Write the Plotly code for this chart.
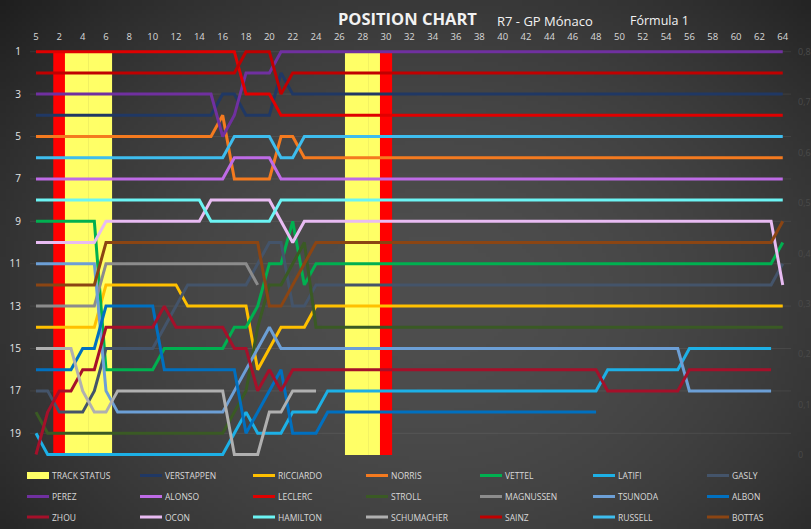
import base64
import struct
import zlib

import numpy as np
import plotly.graph_objects as go

# ---------------------------------------------------------------- data
LAPS = list(range(65))
TICK_LAPS = [0, 2, 4, 6, 8, 10, 12, 14, 16, 18, 20, 22, 24, 26, 28, 30, 32,
             34, 36, 38, 40, 42, 44, 46, 48, 50, 52, 54, 56, 58, 60, 62, 64]
TICK_TEXT = ["5", "2", "4", "6", "8", "10", "12", "14", "16", "18", "20", "22",
             "24", "26", "28", "30", "32", "34", "36", "38", "40", "42", "44",
             "46", "48", "50", "52", "54", "56", "58", "60", "62", "64"]
POS_TICKS = [1, 3, 5, 7, 9, 11, 13, 15, 17, 19]
STATUS_TICKS = [0, 0.1, 0.2, 0.3, 0.4, 0.5, 0.6, 0.7, 0.8]
STATUS_TICK_TEXT = ["0", "0,1", "0,2", "0,3", "0,4", "0,5", "0,6", "0,7", "0,8"]

# track status (secondary axis): red flag / safety car laps
TS_LAPS = [2, 3, 4, 5, 6, 27, 28, 29, 30]
TS_KIND = ["RED", "SC", "SC", "SC", "SC", "SC", "SC", "SC", "RED"]
TS_VALUE = [0.8, 0.8, 0.8, 0.8, 0.8, 0.8, 0.8, 0.8, 0.8]

N = None
VERSTAPPEN = [4, 4, 4, 4, 4, 4, 4, 4, 4, 4,
              4, 4, 4, 4, 4, 4, 3, 3, 4, 4,
              4, 2, 3, 3, 3, 3, 3, 3, 3, 3,
              3, 3, 3, 3, 3, 3, 3, 3, 3, 3,
              3, 3, 3, 3, 3, 3, 3, 3, 3, 3,
              3, 3, 3, 3, 3, 3, 3, 3, 3, 3,
              3, 3, 3, 3, 3]
RICCIARDO = [14, 14, 14, 14, 14, 14, 12, 12, 12, 12,
             12, 12, 12, 13, 13, 13, 13, 13, 13, 16,
             15, 14, 14, 14, 13, 13, 13, 13, 13, 13,
             13, 13, 13, 13, 13, 13, 13, 13, 13, 13,
             13, 13, 13, 13, 13, 13, 13, 13, 13, 13,
             13, 13, 13, 13, 13, 13, 13, 13, 13, 13,
             13, 13, 13, 13, 13]
NORRIS = [5, 5, 5, 5, 5, 5, 5, 5, 5, 5,
          5, 5, 5, 5, 5, 5, 4, 7, 7, 7,
          7, 5, 5, 6, 6, 6, 6, 6, 6, 6,
          6, 6, 6, 6, 6, 6, 6, 6, 6, 6,
          6, 6, 6, 6, 6, 6, 6, 6, 6, 6,
          6, 6, 6, 6, 6, 6, 6, 6, 6, 6,
          6, 6, 6, 6, 6]
VETTEL = [9, 9, 9, 9, 9, 9, 16, 16, 16, 16,
          16, 15, 15, 15, 15, 15, 15, 14, 14, 13,
          11, 11, 9, 12, 11, 11, 11, 11, 11, 11,
          11, 11, 11, 11, 11, 11, 11, 11, 11, 11,
          11, 11, 11, 11, 11, 11, 11, 11, 11, 11,
          11, 11, 11, 11, 11, 11, 11, 11, 11, 11,
          11, 11, 11, 11, 10]
LATIFI = [19, 20, 20, 20, 20, 20, 20, 20, 20, 20,
          20, 20, 20, 20, 20, 20, 20, 19, 18, 19,
          19, 19, 18, 18, 18, 17, 17, 17, 17, 17,
          17, 17, 17, 17, 17, 17, 17, 17, 17, 17,
          17, 17, 17, 17, 17, 17, 17, 17, 17, 16,
          16, 16, 16, 16, 16, 16, 15, 15, 15, 15,
          15, 15, 15, 15, N]
GASLY = [17, 17, 18, 18, 18, 17, 15, 15, 15, 15,
         15, 14, 13, 12, 12, 12, 12, 12, 12, 11,
         10, 10, 13, 13, 12, 12, 12, 12, 12, 12,
         12, 12, 12, 12, 12, 12, 12, 12, 12, 12,
         12, 12, 12, 12, 12, 12, 12, 12, 12, 12,
         12, 12, 12, 12, 12, 12, 12, 12, 12, 12,
         12, 12, 12, 12, 11]
PEREZ = [3, 3, 3, 3, 3, 3, 3, 3, 3, 3,
         3, 3, 3, 3, 3, 3, 5, 4, 2, 2,
         2, 1, 1, 1, 1, 1, 1, 1, 1, 1,
         1, 1, 1, 1, 1, 1, 1, 1, 1, 1,
         1, 1, 1, 1, 1, 1, 1, 1, 1, 1,
         1, 1, 1, 1, 1, 1, 1, 1, 1, 1,
         1, 1, 1, 1, 1]
ALONSO = [7, 7, 7, 7, 7, 7, 7, 7, 7, 7,
          7, 7, 7, 7, 7, 7, 7, 6, 6, 6,
          6, 7, 7, 7, 7, 7, 7, 7, 7, 7,
          7, 7, 7, 7, 7, 7, 7, 7, 7, 7,
          7, 7, 7, 7, 7, 7, 7, 7, 7, 7,
          7, 7, 7, 7, 7, 7, 7, 7, 7, 7,
          7, 7, 7, 7, 7]
LECLERC = [1, 1, 1, 1, 1, 1, 1, 1, 1, 1,
           1, 1, 1, 1, 1, 1, 1, 1, 3, 3,
           3, 4, 4, 4, 4, 4, 4, 4, 4, 4,
           4, 4, 4, 4, 4, 4, 4, 4, 4, 4,
           4, 4, 4, 4, 4, 4, 4, 4, 4, 4,
           4, 4, 4, 4, 4, 4, 4, 4, 4, 4,
           4, 4, 4, 4, 4]
STROLL = [18, 19, 19, 19, 19, 19, 19, 19, 19, 19,
          19, 19, 19, 19, 19, 19, 19, 18, 17, 14,
          12, 12, 11, 10, 14, 14, 14, 14, 14, 14,
          14, 14, 14, 14, 14, 14, 14, 14, 14, 14,
          14, 14, 14, 14, 14, 14, 14, 14, 14, 14,
          14, 14, 14, 14, 14, 14, 14, 14, 14, 14,
          14, 14, 14, 14, 14]
MAGNUSSEN = [13, 13, 13, 13, 13, 13, 11, 11, 11, 11,
             11, 11, 11, 11, 11, 11, 11, 11, 11, 12,
             N, N, N, N, N, N, N, N, N, N,
             N, N, N, N, N, N, N, N, N, N,
             N, N, N, N, N, N, N, N, N, N,
             N, N, N, N, N, N, N, N, N, N,
             N, N, N, N, N]
TSUNODA = [11, 11, 11, 11, 11, 11, 17, 18, 18, 18,
           18, 18, 18, 18, 18, 18, 18, 17, 16, 15,
           14, 15, 15, 15, 15, 15, 15, 15, 15, 15,
           15, 15, 15, 15, 15, 15, 15, 15, 15, 15,
           15, 15, 15, 15, 15, 15, 15, 15, 15, 15,
           15, 15, 15, 15, 15, 15, 17, 17, 17, 17,
           17, 17, 17, 17, N]
ALBON = [16, 16, 16, 16, 15, 15, 13, 13, 13, 13,
         13, 16, 16, 16, 16, 16, 16, 16, 19, 18,
         17, 16, 19, 19, 19, 18, 18, 18, 18, 18,
         18, 18, 18, 18, 18, 18, 18, 18, 18, 18,
         18, 18, 18, 18, 18, 18, 18, 18, 18, N,
         N, N, N, N, N, N, N, N, N, N,
         N, N, N, N, N]
ZHOU = [20, 18, 17, 17, 16, 16, 14, 14, 14, 14,
        14, 13, 14, 14, 14, 14, 14, 15, 15, 17,
        16, 17, 16, 16, 16, 16, 16, 16, 16, 16,
        16, 16, 16, 16, 16, 16, 16, 16, 16, 16,
        16, 16, 16, 16, 16, 16, 16, 16, 16, 17,
        17, 17, 17, 17, 17, 17, 16, 16, 16, 16,
        16, 16, 16, 16, N]
OCON = [10, 10, 10, 10, 10, 10, 9, 9, 9, 9,
        9, 9, 9, 9, 9, 8, 8, 8, 8, 8,
        8, 9, 10, 9, 9, 9, 9, 9, 9, 9,
        9, 9, 9, 9, 9, 9, 9, 9, 9, 9,
        9, 9, 9, 9, 9, 9, 9, 9, 9, 9,
        9, 9, 9, 9, 9, 9, 9, 9, 9, 9,
        9, 9, 9, 9, 12]
HAMILTON = [8, 8, 8, 8, 8, 8, 8, 8, 8, 8,
            8, 8, 8, 8, 8, 9, 9, 9, 9, 9,
            9, 8, 8, 8, 8, 8, 8, 8, 8, 8,
            8, 8, 8, 8, 8, 8, 8, 8, 8, 8,
            8, 8, 8, 8, 8, 8, 8, 8, 8, 8,
            8, 8, 8, 8, 8, 8, 8, 8, 8, 8,
            8, 8, 8, 8, 8]
SCHUMACHER = [15, 15, 15, 15, 17, 18, 18, 17, 17, 17,
              17, 17, 17, 17, 17, 17, 17, 20, 20, 20,
              18, 18, 17, 17, 17, N, N, N, N, N,
              N, N, N, N, N, N, N, N, N, N,
              N, N, N, N, N, N, N, N, N, N,
              N, N, N, N, N, N, N, N, N, N,
              N, N, N, N, N]
SAINZ = [2, 2, 2, 2, 2, 2, 2, 2, 2, 2,
         2, 2, 2, 2, 2, 2, 2, 2, 1, 1,
         1, 3, 2, 2, 2, 2, 2, 2, 2, 2,
         2, 2, 2, 2, 2, 2, 2, 2, 2, 2,
         2, 2, 2, 2, 2, 2, 2, 2, 2, 2,
         2, 2, 2, 2, 2, 2, 2, 2, 2, 2,
         2, 2, 2, 2, 2]
RUSSELL = [6, 6, 6, 6, 6, 6, 6, 6, 6, 6,
           6, 6, 6, 6, 6, 6, 6, 5, 5, 5,
           5, 6, 6, 5, 5, 5, 5, 5, 5, 5,
           5, 5, 5, 5, 5, 5, 5, 5, 5, 5,
           5, 5, 5, 5, 5, 5, 5, 5, 5, 5,
           5, 5, 5, 5, 5, 5, 5, 5, 5, 5,
           5, 5, 5, 5, 5]
BOTTAS = [12, 12, 12, 12, 12, 12, 10, 10, 10, 10,
          10, 10, 10, 10, 10, 10, 10, 10, 10, 10,
          13, 13, 12, 11, 10, 10, 10, 10, 10, 10,
          10, 10, 10, 10, 10, 10, 10, 10, 10, 10,
          10, 10, 10, 10, 10, 10, 10, 10, 10, 10,
          10, 10, 10, 10, 10, 10, 10, 10, 10, 10,
          10, 10, 10, 10, 9]

# series order (legend is filled row by row, 7 per row)
SERIES = [
    ("VERSTAPPEN", VERSTAPPEN, "#203864"),
    ("RICCIARDO", RICCIARDO, "#FFC000"),
    ("NORRIS", NORRIS, "#F47A1F"),
    ("VETTEL", VETTEL, "#00B050"),
    ("LATIFI", LATIFI, "#1DB0E6"),
    ("GASLY", GASLY, "#44546A"),
    ("PEREZ", PEREZ, "#7030A0"),
    ("ALONSO", ALONSO, "#BE6BE6"),
    ("LECLERC", LECLERC, "#E00000"),
    ("STROLL", STROLL, "#3A5A24"),
    ("MAGNUSSEN", MAGNUSSEN, "#8C8C8C"),
    ("TSUNODA", TSUNODA, "#6C9FD6"),
    ("ALBON", ALBON, "#0070C0"),
    ("ZHOU", ZHOU, "#A5102A"),
    ("OCON", OCON, "#E8BBF2"),
    ("HAMILTON", HAMILTON, "#6CF4F4"),
    ("SCHUMACHER", SCHUMACHER, "#B0B0B0"),
    ("SAINZ", SAINZ, "#C00000"),
    ("RUSSELL", RUSSELL, "#3EBDEE"),
    ("BOTTAS", BOTTAS, "#8B4513"),
]
TS_COLORS = {"RED": "#FF0000", "SC": "#FFFF66"}

# ---------------------------------------------------------------- layout geometry
W, H = 811, 529
L, R, T, B = 30, 20, 46, 67
PW, PH = W - L - R, H - T - B


def px(x):
    return (x - L) / PW


def py(y):
    return (H - B - y) / PH


def gradient_png():
    w, h = 203, 133
    xs = (np.arange(w) + 0.5) * W / w
    ys = (np.arange(h) + 0.5) * H / h
    X, Y = np.meshgrid(xs, ys)
    d2 = ((X - 430) / 470) ** 2 + ((Y - 300) / 370) ** 2
    v = np.clip(78 - 32 * d2, 30, 80).astype(np.uint8)
    rgb = np.stack([v, v, v], axis=-1)
    raw = b"".join(b"\x00" + rgb[i].tobytes() for i in range(h))

    def chunk(t, data):
        c = struct.pack(">I", len(data)) + t + data
        return c + struct.pack(">I", zlib.crc32(t + data) & 0xFFFFFFFF)

    png = (b"\x89PNG\r\n\x1a\n"
           + chunk(b"IHDR", struct.pack(">IIBBBBB", w, h, 8, 2, 0, 0, 0))
           + chunk(b"IDAT", zlib.compress(raw, 9))
           + chunk(b"IEND", b""))
    return "data:image/png;base64," + base64.b64encode(png).decode()


fig = go.Figure()

# track status bars on the status axis (drawn first = underneath)
fig.add_trace(go.Bar(
    x=TS_LAPS, y=TS_VALUE, width=1.04,
    marker=dict(color=[TS_COLORS[k] for k in TS_KIND], line=dict(width=0)),
    yaxis="y", hoverinfo="skip", showlegend=False,
))

for name, pos, col in SERIES:
    fig.add_trace(go.Scatter(
        x=LAPS, y=pos, mode="lines", name=name, yaxis="y2",
        line=dict(color=col, width=3), connectgaps=False, showlegend=False,
    ))

shapes = []
annotations = []

# faint horizontal gridlines at odd positions, beneath all traces
for p in POS_TICKS:
    shapes.append(dict(type="line", xref="paper", yref="y2", x0=0, x1=1, y0=p, y1=p,
                       layer="below", line=dict(color="rgba(255,255,255,0.07)", width=1)))

# ---------------------------------------------------------------- legend (manual, 7 columns)
LEG_COLS = [27, 140, 253, 366, 480, 593, 707]
LEG_ROWS = [475.5, 496.5, 517]
legend_items = [("TRACK STATUS", TS_COLORS["SC"])] + [(n, c) for n, _, c in SERIES]
for i, (name, col) in enumerate(legend_items):
    cx = LEG_COLS[i % 7]
    ry = LEG_ROWS[i // 7]
    if i == 0:
        shapes.append(dict(type="rect", xref="paper", yref="paper",
                           x0=px(cx), x1=px(cx + 22), y0=py(ry - 3.5), y1=py(ry + 3.5),
                           fillcolor=col, line=dict(width=0)))
    else:
        shapes.append(dict(type="line", xref="paper", yref="paper",
                           x0=px(cx), x1=px(cx + 22), y0=py(ry), y1=py(ry),
                           line=dict(color=col, width=3)))
    annotations.append(dict(text=name, xref="paper", yref="paper",
                            x=px(cx + 23), y=py(ry), xanchor="left", yanchor="middle",
                            showarrow=False,
                            font=dict(family="Open Sans", size=8.5, color="#d9d9d9")))

# titles
annotations += [
    dict(text="<b>POSITION CHART</b>", xref="paper", yref="paper", x=px(407), y=py(19),
         xanchor="center", yanchor="middle", showarrow=False,
         font=dict(family="Open Sans", size=16.5, color="#f2f2f2")),
    dict(text="R7 - GP Mónaco", xref="paper", yref="paper", x=px(545), y=py(21),
         xanchor="center", yanchor="middle", showarrow=False,
         font=dict(family="Open Sans", size=13, color="#f2f2f2")),
    dict(text="Fórmula 1", xref="paper", yref="paper", x=px(659), y=py(20),
         xanchor="center", yanchor="middle", showarrow=False,
         font=dict(family="Open Sans", size=12.5, color="#f2f2f2")),
]

# axis ranges matched to the reference pixels
pos_top = 1 + (T - 51.7) / 21.2
pos_bot = 1 + (H - B - 51.7) / 21.2
st_top = (455 - T) / 504
st_bot = (455 - (H - B)) / 504
lap_left = (L - 36) / 11.668
lap_right = lap_left + PW / 11.668

fig.update_layout(
    width=W, height=H,
    margin=dict(l=L, r=R, t=T, b=B, pad=0, autoexpand=False),
    paper_bgcolor="#3a3a3a", plot_bgcolor="rgba(0,0,0,0)",
    showlegend=False, barmode="overlay",
    font=dict(family="Open Sans"),
    xaxis=dict(range=[lap_left, lap_right], side="top", tickmode="array",
               tickvals=TICK_LAPS, ticktext=TICK_TEXT, showgrid=False, zeroline=False,
               showline=False, ticks="", tickfont=dict(size=9.5, color="#d9d9d9"),
               ticklabelstandoff=3, automargin=False),
    yaxis=dict(range=[st_bot, st_top], side="right", tickmode="array",
               tickvals=STATUS_TICKS, ticktext=STATUS_TICK_TEXT, showgrid=False,
               zeroline=False, showline=False, ticks="", automargin=False,
               tickfont=dict(size=9, color="#4a4a4a"), ticklabelstandoff=6),
    yaxis2=dict(range=[pos_bot, pos_top], overlaying="y", side="left", tickmode="array",
                tickvals=POS_TICKS, showgrid=False, zeroline=False, showline=False,
                ticks="", tickfont=dict(size=10, color="#e6e6e6"), ticklabelstandoff=8,
                automargin=False),
    shapes=shapes,
    annotations=annotations,
    images=[dict(source=gradient_png(), xref="paper", yref="paper",
                 x=-L / PW, y=1 + T / PH, sizex=W / PW, sizey=H / PH,
                 xanchor="left", yanchor="top", sizing="stretch", layer="below")],
)

fig.write_html(
    "out.html",
    config={"displayModeBar": False},
    post_script="document.body.style.margin='0';document.body.style.overflow='hidden';",
)
